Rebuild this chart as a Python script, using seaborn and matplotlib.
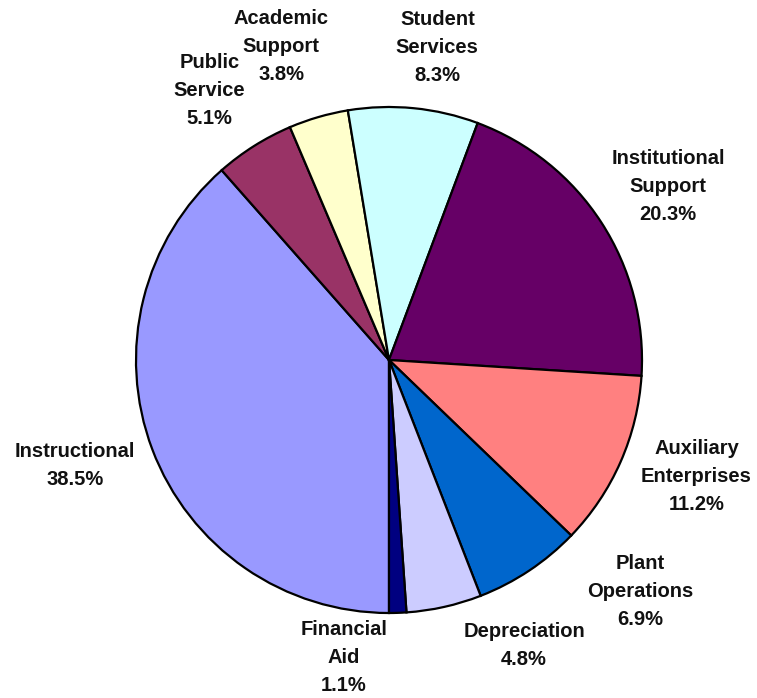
import matplotlib.pyplot as plt
import numpy as np
import seaborn as sns

sns.set_theme(style="white")
plt.rcParams['font.family'] = ['Liberation Sans', 'DejaVu Sans']

# Data, clockwise from 6 o'clock
categories = ['Instructional', 'Public\nService', 'Academic\nSupport', 'Student\nServices',
              'Institutional\nSupport', 'Auxiliary\nEnterprises', 'Plant\nOperations',
              'Depreciation', 'Financial\nAid']
shares = [38.5, 5.1, 3.8, 8.3, 20.3, 11.2, 6.9, 4.8, 1.1]
colors = ['#9999FF', '#993366', '#FFFFCC', '#CCFFFF', '#660066',
          '#FF8080', '#0066CC', '#CCCCFF', '#000080']

# label placement: angle nudge (deg) from wedge middle, distance in radii
label_nudge = [-2.2, 1.5, 2.8, -3.2, -1.0, 3.0, 13.7, 12.7, -10.6]
label_dist = [1.31, 1.28, 1.31, 1.25, 1.30, 1.30, 1.35, 1.25, 1.19]

fig = plt.figure(figsize=(7.57, 6.98), dpi=100)
ax = fig.add_axes([0, 0, 1, 1])

wedges, _ = ax.pie(shares, colors=colors, startangle=270, counterclock=False,
                   radius=1.0, wedgeprops=dict(edgecolor='black', linewidth=1.6))

for w, name, val, nudge, dist in zip(wedges, categories, shares, label_nudge, label_dist):
    mid = (w.theta1 + w.theta2) / 2 + nudge
    x = dist * np.cos(np.radians(mid))
    y = dist * np.sin(np.radians(mid))
    ax.text(x, y, f'{name}\n{val:.1f}%', ha='center', va='center',
            fontsize=14.5, fontweight='bold', linespacing=1.6, color='#111111')

# 1 data unit = 253 px, centre at (389, 360) px from top-left
ax.set_xlim(-389 / 253, (757 - 389) / 253)
ax.set_ylim(-(698 - 360) / 253, 360 / 253)
ax.set_aspect('auto')
ax.axis('off')

fig.savefig('out.png', dpi=100)
